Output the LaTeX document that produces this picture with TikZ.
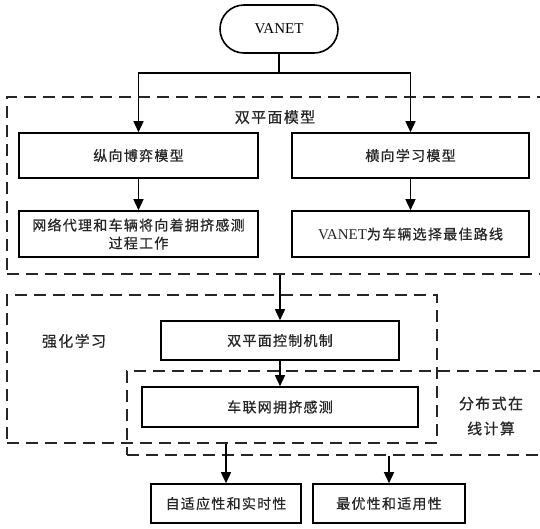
\documentclass[tikz,border=0pt]{standalone}
\usepackage{fontspec}
\setmainfont{Liberation Serif}
\newfontfamily\cjk{Noto Sans CJK SC}[LetterSpace=9,FakeBold=0.6]
\usetikzlibrary{arrows.meta}
\begin{document}
\begin{tikzpicture}[x=1pt,y=-1pt,
  box/.style={draw=black,line width=1.6pt,fill=white,rectangle,inner sep=0pt,font=\cjk\fontsize{14}{18}\selectfont,text=black!85,align=center},
  dashbox/.style={draw=black!85,line width=1.5pt,dash pattern=on 12pt off 7pt,rectangle,inner sep=0pt},
  lbl/.style={font=\cjk\fontsize{15}{25}\selectfont,text=black!85,align=center,inner sep=0pt},
  arr/.style={draw=black,line width=1.5pt,-{Triangle[width=10pt,length=11pt]}},
  ln/.style={draw=black,line width=1.5pt}]
\useasboundingbox (0,0) rectangle (540,528);
% dashed groups
\node[dashbox,minimum width=534pt,minimum height=177pt] (d1) at (274,185.5) {};
\node[dashbox,minimum width=430pt,minimum height=148pt] (d2) at (222,369) {};
\node[dashbox,minimum width=414pt,minimum height=84pt] (d3) at (334,413) {};
% labels
\node[lbl] (l1) at (275,117) {双平面模型};
\node[lbl] (l2) at (74,341) {强化学习};
\node[lbl] (l3) at (491,416) {分布式在\\线计算};
% boxes
\node[draw=black,line width=1.6pt,fill=white,rounded corners=24pt,minimum width=118pt,minimum height=48pt,inner sep=0pt,font=\fontsize{15}{18}\selectfont] (van) at (279,29) {VANET};
\node[box,minimum width=239pt,minimum height=45pt] (zong) at (138.5,155.5) {纵向博弈模型};
\node[box,minimum width=237pt,minimum height=45pt] (heng) at (410.5,155.5) {横向学习模型};
\node[box,minimum width=239pt,minimum height=46pt] (wl) at (138.5,234) {网络代理和车辆将向着拥挤感测\\过程工作};
\node[box,minimum width=237pt,minimum height=46pt] (vr) at (410.5,234) {{\rmfamily\fontsize{15}{16}\selectfont VANET}为车辆选择最佳路线};
\node[box,minimum width=238pt,minimum height=39pt] (sp) at (280,340.5) {双平面控制机制};
\node[box,minimum width=276pt,minimum height=40pt] (cl) at (280,407) {车联网拥挤感测};
\node[box,minimum width=150pt,minimum height=39pt] (zs) at (226,503.5) {自适应性和实时性};
\node[box,minimum width=152pt,minimum height=39pt] (zy) at (389,503.5) {最优性和适用性};
% connectors
\coordinate (j) at (279,73);
\draw[ln] (van.south) -- (j);
\draw[arr] (j) -| (zong.north);
\draw[arr] (j) -| (heng.north);
\draw[arr] (zong.south) -- (wl.north);
\draw[arr] (heng.south) -- (vr.north);
\draw[arr] (d1.south -| sp.north) -- (sp.north);
\draw[arr] (sp.south) -- (cl.north);
\draw[arr] (d2.south -| zs.north) -- (zs.north);
\draw[arr] (d3.south -| zy.north) -- (zy.north);
\end{tikzpicture}
\end{document}
